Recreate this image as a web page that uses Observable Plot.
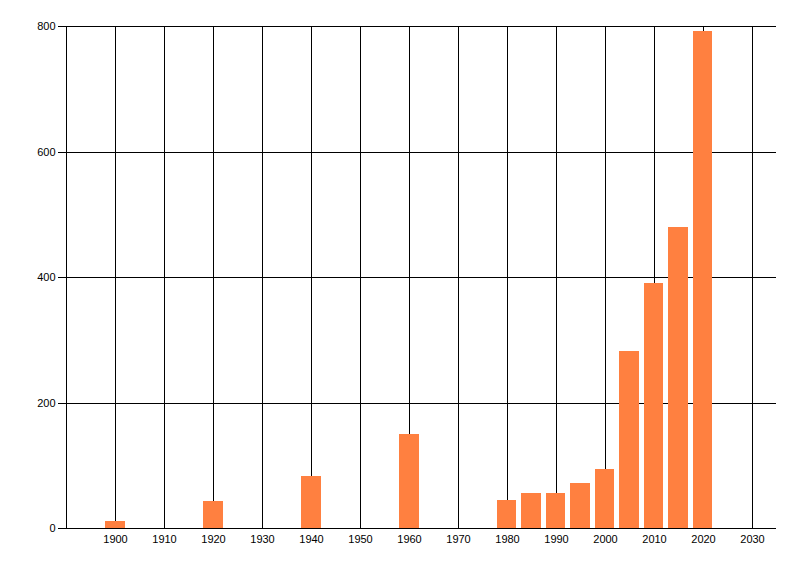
<!DOCTYPE html>
<html>
<head>
<meta charset="utf-8">
<script src="https://cdn.jsdelivr.net/npm/d3@7"></script>
<script src="https://cdn.jsdelivr.net/npm/@observablehq/plot@0.6"></script>
<style>
  html, body { margin: 0; padding: 0; background: #fff; }
  svg { display: block; }
</style>
</head>
<body>
<div id="chart"></div>
<script>
const years = [1900, 1920, 1940, 1960, 1980, 1985, 1990, 1995, 2000, 2005, 2010, 2015, 2020];
const counts = [11, 43, 83, 150, 44, 56, 56, 72, 94, 282, 390, 480, 792];
const xTicks = [1900, 1910, 1920, 1930, 1940, 1950, 1960, 1970, 1980, 1990, 2000, 2010, 2020, 2030];
const yTicks = [0, 200, 400, 600, 800];

const data = years.map((y, i) => ({year: y, value: counts[i]}));

const chart = Plot.plot({
  width: 800,
  height: 576,
  marginLeft: 66,
  marginRight: 24,
  marginTop: 26,
  marginBottom: 48,
  style: {fontFamily: "Liberation Sans, Arial, sans-serif", fontSize: "11px", color: "#000", background: "#fff"},
  x: {domain: [1890, 2035], axis: null, round: true},
  y: {domain: [0, 800], axis: null, round: true},
  marks: [
    Plot.ruleX(xTicks, {x: d => d, y1: 0, y2: 800, stroke: "#000", strokeWidth: 1, strokeOpacity: 1}),
    Plot.ruleY(yTicks, {y: d => d, x1: 1890, x2: 2035, stroke: "#000", strokeWidth: 1, strokeOpacity: 1}),
    Plot.rectY(data, {x1: d => d.year - 2, x2: d => d.year + 2, y1: 0, y2: "value", fill: "#FF8040", inset: 0}),
    Plot.ruleX([1890], {y1: 0, y2: 800, stroke: "#000", strokeWidth: 1}),
    Plot.axisY({ticks: yTicks, label: null, tickSize: 8, tickPadding: 3, tickFormat: d => String(d), stroke: "#000", strokeOpacity: 1}),
    Plot.axisX({ticks: xTicks, label: null, tickSize: 0, tickPadding: 7, tickFormat: d => String(d)})
  ]
});
document.getElementById("chart").appendChild(chart);
</script>
</body>
</html>
